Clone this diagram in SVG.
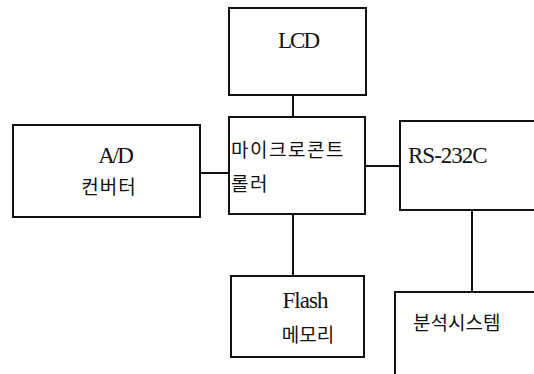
<svg xmlns="http://www.w3.org/2000/svg" width="534" height="374" viewBox="0 0 534 374">
<style>
.box{fill:#fff;stroke:#111;stroke-width:2}
.ln{stroke:#111;stroke-width:2;fill:none}
.lat{font-family:"Liberation Serif","DejaVu Serif",serif;font-size:23px;fill:#111}
.kr{font-family:"Noto Sans CJK KR",sans-serif;font-size:19px;fill:#111}
</style>
<rect width="534" height="374" fill="#fff"/>
<g id="connectors">
<line class="ln" x1="293" y1="95" x2="293" y2="117"/>
<line class="ln" x1="200" y1="173" x2="229" y2="173"/>
<line class="ln" x1="365" y1="166" x2="400" y2="166"/>
<line class="ln" x1="293" y1="214" x2="293" y2="276"/>
<line class="ln" x1="472" y1="206" x2="472" y2="292"/>
</g>
<g id="lcd">
<rect class="box" x="229" y="8" width="137" height="87"/>
<text class="lat" x="298" y="48" text-anchor="middle" letter-spacing="-2">LCD</text>
</g>
<g id="mcu">
<rect class="box" x="229" y="117" width="136" height="97"/>
<text class="kr" x="231" y="157" font-size="20" letter-spacing="1.5">마이크로콘트</text>
<text class="kr" x="231" y="191" font-size="20" letter-spacing="1.5">롤러</text>
</g>
<g id="adc">
<rect class="box" x="13" y="125" width="187" height="92"/>
<text class="lat" x="115" y="163" text-anchor="middle" letter-spacing="-2">A/D</text>
<text class="kr" x="109" y="194" text-anchor="middle" letter-spacing="1">컨버터</text>
</g>
<g id="rs232c">
<rect class="box" x="400" y="121" width="140" height="89"/>
<text class="lat" x="408" y="163" letter-spacing="-1">RS-232C</text>
</g>
<g id="flash">
<rect class="box" x="231" y="276" width="133" height="81"/>
<text class="lat" x="305" y="308" text-anchor="middle" letter-spacing="-1">Flash</text>
<text class="kr" x="308" y="342" text-anchor="middle">메모리</text>
</g>
<g id="analysis">
<rect class="box" x="395" y="292" width="150" height="90"/>
<text class="kr" x="413" y="330">분석시스템</text>
</g>
</svg>
